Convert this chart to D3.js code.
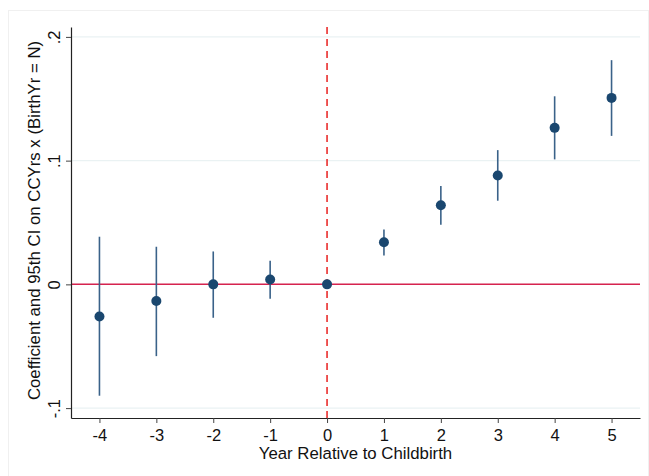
<!DOCTYPE html>
<html>
<head>
<meta charset="utf-8">
<script src="https://cdn.jsdelivr.net/npm/d3@7"></script>
<style>
  body { margin: 0; background: #fff; }
  svg text { font-family: "Liberation Sans", Arial, sans-serif; fill: #111; }
</style>
</head>
<body>
<svg id="thesvg" width="649" height="476"></svg>
<script>
'use strict';

// event-study coefficients
let years = [-4, -3, -2, -1, 0, 1, 2, 3, 4, 5],
    coef  = [-0.026, -0.0135, 0, 0.004, 0, 0.034, 0.064, 0.088, 0.1265, 0.1507],
    ciLo  = [-0.090, -0.058, -0.027, -0.0116, 0, 0.0234, 0.0482, 0.0676, 0.101, 0.120],
    ciHi  = [0.0385, 0.0304, 0.0266, 0.019, 0, 0.0444, 0.0794, 0.1085, 0.152, 0.1812],
    yTicks = [-0.1, 0, 0.1, 0.2],
    yTickLabels = ["-.1", "0", ".1", ".2"];

var svg = d3.select("#thesvg"),
    margin = {top: 27, right: 9, bottom: 58, left: 71},
    width = svg.attr("width") - margin.left - margin.right,
    height = svg.attr("height") - margin.top - margin.bottom,
    navy = "#1a476f";

var x = d3.scaleLinear().domain([-4.5, 5.5]).range([0, width]),
    y = d3.scaleLinear().domain([-0.108, 0.208]).range([height, 0]);

var data = years.map(function(d, i) {
  return {yr: d, b: coef[i], lo: ciLo[i], hi: ciHi[i]};
});

// faint outer frame
svg.append("rect")
    .attr("x", 8.5).attr("y", 10.5)
    .attr("width", 640).attr("height", 470)
    .attr("fill", "none")
    .attr("stroke", "#f0f0f0");

var g = svg.append("g")
    .attr("transform", "translate(" + margin.left + "," + margin.top + ")");

// gridlines
g.append("g")
    .selectAll("line")
    .data(yTicks)
  .enter().append("line")
    .attr("x1", 0).attr("x2", width)
    .attr("y1", function(d) { return y(d); })
    .attr("y2", function(d) { return y(d); })
    .attr("stroke", "#eaf2f3")
    .attr("stroke-width", 1.2);

// reference lines
g.append("line")
    .attr("x1", 0).attr("x2", width)
    .attr("y1", y(0)).attr("y2", y(0))
    .attr("stroke", "#d6234f")
    .attr("stroke-width", 1.5);

g.append("line")
    .attr("x1", x(0)).attr("x2", x(0))
    .attr("y1", 0).attr("y2", height)
    .attr("stroke", "#e8201f")
    .attr("stroke-width", 1.5)
    .attr("stroke-dasharray", "7,5");

// axes
var xAxis = g.append("g")
    .attr("transform", "translate(0," + height + ")")
    .call(d3.axisBottom(x).tickValues(years)
      .tickFormat(function(d) { return String(d); })
      .tickSize(5).tickPadding(6).tickSizeOuter(0));

var yAxis = g.append("g")
    .call(d3.axisLeft(y).tickValues(yTicks)
      .tickFormat(function(d, i) { return yTickLabels[i]; })
      .tickSize(5).tickSizeOuter(0));

[xAxis, yAxis].forEach(function(a) {
  a.select(".domain").attr("stroke", "#222").attr("stroke-width", 1.2);
  a.selectAll(".tick line").attr("stroke", "#444");
  a.selectAll("text").style("font-size", "16.5px").attr("fill", "#111");
});

yAxis.selectAll(".tick text")
    .attr("text-anchor", "middle")
    .attr("x", 0).attr("dy", 0)
    .attr("transform", "translate(-11,0) rotate(-90)");

// CI whiskers
g.selectAll(".ci")
    .data(data.filter(function(d) { return d.hi !== d.lo; }))
  .enter().append("line")
    .attr("class", "ci")
    .attr("x1", function(d) { return x(d.yr); })
    .attr("x2", function(d) { return x(d.yr); })
    .attr("y1", function(d) { return y(d.lo); })
    .attr("y2", function(d) { return y(d.hi); })
    .attr("stroke", "#3a6289")
    .attr("stroke-width", 1.6);

// point estimates
g.selectAll(".dot")
    .data(data)
  .enter().append("circle")
    .attr("class", "dot")
    .attr("r", 5)
    .attr("cx", function(d) { return x(d.yr); })
    .attr("cy", function(d) { return y(d.b); })
    .attr("fill", navy);

// axis titles
svg.append("text")
    .attr("x", margin.left + x(0.5))
    .attr("y", 459)
    .attr("text-anchor", "middle")
    .style("font-size", "16.8px")
    .text("Year Relative to Childbirth");

svg.append("text")
    .attr("transform", "translate(40," + (margin.top + height / 2 - 2) + ") rotate(-90)")
    .attr("text-anchor", "middle")
    .style("font-size", "16.8px")
    .text("Coefficient and 95th CI on CCYrs x (BirthYr = N)");
</script>
</body>
</html>
